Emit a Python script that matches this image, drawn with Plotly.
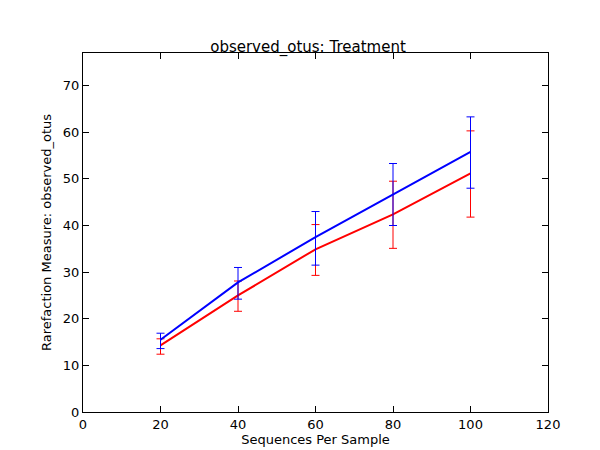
import plotly.graph_objects as go

seqs = [20, 40, 60, 80, 100]

blue_mean = [15.5, 27.8, 37.5, 46.7, 55.8]
blue_hi = [16.9, 31.0, 43.0, 53.3, 63.3]
blue_lo = [13.6, 24.2, 31.5, 40.0, 48.0]

red_mean = [14.3, 25.0, 34.9, 42.4, 51.2]
red_hi = [15.7, 28.1, 40.2, 49.5, 60.3]
red_lo = [12.4, 21.6, 29.3, 35.1, 41.8]


def add_series(fig, mean, hi, lo, color):
    fig.add_trace(go.Scatter(
        x=seqs, y=mean, mode="lines",
        line=dict(color=color, width=2),
        error_y=dict(type="data", symmetric=False,
                     array=[h - m for h, m in zip(hi, mean)],
                     arrayminus=[m - l for m, l in zip(mean, lo)],
                     color=color, thickness=1, width=4),
        showlegend=False,
    ))


fig = go.Figure()
add_series(fig, red_mean, red_hi, red_lo, "#ff0000")
add_series(fig, blue_mean, blue_hi, blue_lo, "#0000ff")

axis = dict(showgrid=False, zeroline=False, showline=True, linecolor="black",
            mirror="ticks", ticks="inside", ticklen=6, tickcolor="black",
            automargin=False, tickfont=dict(size=13, color="black"))

fig.update_layout(
    width=600, height=450,
    paper_bgcolor="white", plot_bgcolor="white",
    font=dict(family="DejaVu Sans", color="black"),
    margin=dict(l=75, r=60, t=45, b=46),
    title=dict(text="observed_otus: Treatment", x=0.5, xanchor="center",
               y=0.903, yanchor="bottom", font=dict(size=15)),
    xaxis=dict(axis, range=[0, 120], dtick=20,
               title=dict(text="Sequences Per Sample", font=dict(size=13), standoff=4)),
    yaxis=dict(axis, range=[0, 77], dtick=10,
               title=dict(text="Rarefaction Measure: observed_otus", font=dict(size=13), standoff=8)),
)

fig.write_html("out.html")
